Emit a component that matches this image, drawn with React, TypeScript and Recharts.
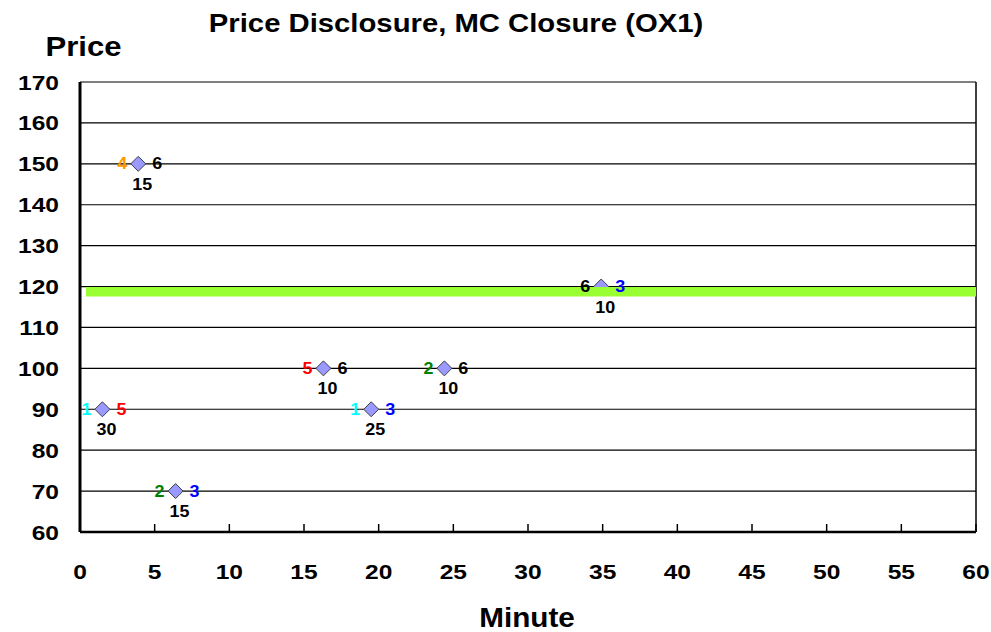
import React from 'react';
import { ScatterChart, Scatter, XAxis, YAxis, CartesianGrid, ReferenceLine } from 'recharts';

const minutes = [3.9, 1.5, 6.4, 16.3, 19.5, 24.4, 34.9];
const prices = [150, 90, 70, 100, 90, 100, 120];
const leftLabels = [4, 1, 2, 5, 1, 2, 6];
const rightLabels = [6, 5, 3, 6, 3, 6, 3];
const belowLabels = [15, 30, 15, 10, 25, 10, 10];
const xTicks = [0, 5, 10, 15, 20, 25, 30, 35, 40, 45, 50, 55, 60];
const yTicks = [60, 70, 80, 90, 100, 110, 120, 130, 140, 150, 160, 170];
const closureMinutes = [0.4, 60];
const closurePrices = [118.7, 118.7];

const labelColors: Record<number, string> = {
  1: '#00FFFF',
  2: '#008000',
  3: '#0000FF',
  4: '#FF9900',
  5: '#FF0000',
  6: '#000000',
};

const FONT = '"Liberation Sans", Arial, sans-serif';

const points = minutes.map((m, i) => ({
  x: m,
  y: prices[i],
  left: leftLabels[i],
  right: rightLabels[i],
  below: belowLabels[i],
}));

const closureLine = closureMinutes.map((m, i) => ({ x: m, y: closurePrices[i] }));

function SText(props: any) {
  const { x, y, size, anchor = 'middle', fill = '#000', sx = 1.15, children } = props;
  return (
    <text
      transform={`translate(${x},${y}) scale(${sx},1)`}
      x={0}
      y={0}
      fontSize={size}
      fontWeight="bold"
      fontFamily={FONT}
      textAnchor={anchor}
      fill={fill}
    >
      {children}
    </text>
  );
}

function XTick(props: any) {
  const { x, y, payload } = props;
  return (
    <g>
      <line x1={x} y1={y} x2={x} y2={y - 8} stroke="#000" strokeWidth={1.5} />
      <SText x={x} y={y + 47} size={21} sx={1.17}>{payload.value}</SText>
    </g>
  );
}

function YTick(props: any) {
  const { x, y, payload } = props;
  return (
    <SText x={x - 21} y={y + 7.5} size={21} sx={1.17} anchor="end">{payload.value}</SText>
  );
}

function Diamond(props: any) {
  const { cx, cy } = props;
  const r = 7.5;
  return (
    <path
      d={`M${cx},${cy - r} L${cx + r},${cy} L${cx},${cy + r} L${cx - r},${cy} Z`}
      fill="#9999FF"
      stroke="#404040"
      strokeWidth={1}
    />
  );
}

function NoShape() {
  return <g />;
}

function PointLabels(props: any) {
  const { cx, cy, payload } = props;
  return (
    <g>
      <SText x={cx - 11} y={cy + 5.5} size={16} sx={1.12} anchor="end" fill={labelColors[payload.left]}>{payload.left}</SText>
      <SText x={cx + 14} y={cy + 5.5} size={16} sx={1.12} anchor="start" fill={labelColors[payload.right]}>{payload.right}</SText>
      <SText x={cx + 4} y={cy + 26} size={16} sx={1.12} anchor="middle" fill="#000">{payload.below}</SText>
    </g>
  );
}

export default function App() {
  return (
    <div style={{ position: 'absolute', left: 0, top: 0, width: 991, height: 632, background: '#fff' }}>
      <ScatterChart
        width={991}
        height={632}
        margin={{ top: 82, right: 15, bottom: 0, left: 0 }}
      >
        <CartesianGrid horizontal vertical={false} stroke="#000" strokeWidth={1.2} strokeOpacity={1} />
        <XAxis
          type="number"
          dataKey="x"
          domain={[0, 60]}
          ticks={xTicks}
          interval={0}
          height={100}
          tickSize={0}
          tickMargin={0}
          tickLine={false}
          axisLine={{ stroke: '#000', strokeWidth: 2.5 }}
          tick={<XTick />}
          label={{
            content: () => <SText x={527} y={627} size={28} sx={1.06}>Minute</SText>,
          }}
        />
        <YAxis
          type="number"
          dataKey="y"
          domain={[60, 170]}
          ticks={yTicks}
          interval={0}
          width={80}
          tickSize={0}
          tickMargin={0}
          tickLine={false}
          axisLine={{ stroke: '#000', strokeWidth: 3 }}
          tick={<YTick />}
          label={{
            content: () => <SText x={83.5} y={56} size={27} sx={1.15}>Price</SText>,
          }}
        />
        <ReferenceLine x={60} stroke="#000" strokeWidth={1.5} ifOverflow="visible" />
        <Scatter data={points} shape={<Diamond />} isAnimationActive={false} />
        <Scatter
          data={closureLine}
          line={{ stroke: '#99FF33', strokeWidth: 9.5 }}
          lineType="joint"
          shape={<NoShape />}
          isAnimationActive={false}
        />
        <Scatter data={points} shape={<PointLabels />} isAnimationActive={false} />
        <SText x={456} y={32} size={26.5} sx={1.105}>Price Disclosure, MC Closure (OX1)</SText>
      </ScatterChart>
    </div>
  );
}
